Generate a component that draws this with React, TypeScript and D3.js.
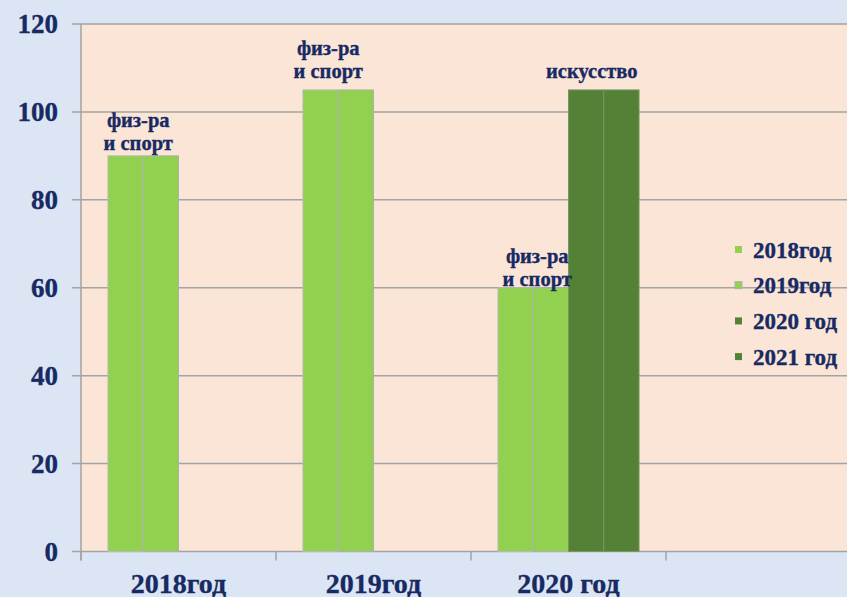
import React from "react";
import * as d3 from "d3";

const categories = ["2018год", "2019год", "2020 год", ""];
const seriesNames = ["2018год", "2019год", "2020 год", "2021 год"];
const values2018 = [90, 105, 60, 0];
const values2019 = [90, 105, 60, 0];
const values2020 = [0, 0, 105, 0];
const values2021 = [0, 0, 105, 0];
const seriesValues = [values2018, values2019, values2020, values2021];
const yTicks = [0, 20, 40, 60, 80, 100, 120];

const labelLines = [["физ-ра", "и спорт"], ["физ-ра", "и спорт"], ["физ-ра", "и спорт"], ["искусство"]];
const labelCategory = ["2018год", "2019год", "2020 год", "2020 год"];
const labelSeries = [0, 0, 0, 2];

const W = 847, H = 597;
const margin = { left: 81, top: 24, right: 861, bottom: 551.5 };
const colors = ["#92d050", "#92d050", "#538135", "#538135"];
const strokes = ["#b4bfa8", "#a8b3a8", "#7a9466", "#7a9466"];
const textColor = "#172a63";
const font = "'Liberation Serif', 'Times New Roman', serif";

export default function App() {
  const x0 = d3.scaleBand<string>().domain(categories).range([margin.left, margin.right]).paddingInner(0).paddingOuter(0);
  const x1 = d3.scaleBand<string>().domain(seriesNames).range([0, x0.bandwidth()]).paddingOuter(0.765);
  const y = d3.scaleLinear().domain([0, 120]).range([margin.bottom, margin.top]);

  const labelDx = [-5, -10, 4, -12];
  const labelGap = [6, 12, 2, 12];

  const textStyle = { stroke: textColor, strokeWidth: 0.35 };

  return (
    <svg width={W} height={H} style={{ position: "absolute", left: 0, top: 0, display: "block" }}>
      <rect x={0} y={0} width={W} height={H} fill="#dbe5f3" />
      <rect x={margin.left} y={y(120)} width={margin.right - margin.left} height={y(0) - y(120)} fill="#fbe5d7" />
      {yTicks.map((t) => (
        <g key={t}>
          <line x1={72} x2={margin.right} y1={y(t)} y2={y(t)} stroke="#a3a3a3" strokeWidth={1.5} />
          <text x={58} y={y(t)} dy="0.35em" textAnchor="end" fontFamily={font} fontWeight="bold" fontSize={27} fill={textColor} style={textStyle}>{t}</text>
        </g>
      ))}
      {categories.map((c) => (
        <line key={"t" + c} x1={x0(c)!} x2={x0(c)!} y1={y(0)} y2={y(0) + 9} stroke="#a3a3a3" strokeWidth={1.5} />
      ))}
      <line x1={margin.left} x2={margin.left} y1={y(120)} y2={y(0) + 9} stroke="#a3a3a3" strokeWidth={1.5} />
      {categories.map((c, ci) =>
        seriesNames.map((s, si) => {
          const v = seriesValues[si][ci];
          if (!v) return null;
          return (
            <rect key={c + s} x={x0(c)! + x1(s)!} y={y(v)} width={x1.bandwidth()} height={y(0) - y(v)}
              fill={colors[si]} stroke={strokes[si]} strokeWidth={1} />
          );
        })
      )}
      {categories.filter((c) => c).map((c) => (
        <text key={"xl" + c} x={x0(c)! + x0.bandwidth() / 2} y={593} textAnchor="middle" fontFamily={font} fontWeight="bold" fontSize={28} fill={textColor} style={textStyle}>{c}</text>
      ))}
      {labelLines.map((lines, i) => {
        const c = labelCategory[i];
        const s = labelSeries[i];
        const ci = categories.indexOf(c);
        const v = seriesValues[s][ci];
        const cx = x0(c)! + x1(seriesNames[s])! + x1.bandwidth() + labelDx[i];
        const base = y(v) - labelGap[i];
        return (
          <text key={"lab" + i} textAnchor="middle" fontFamily={font} fontWeight="bold" fontSize={20.5} fill={textColor} style={textStyle}>
            {lines.map((ln, li) => (
              <tspan key={li} x={cx} y={base - (lines.length - 1 - li) * 23}>{ln}</tspan>
            ))}
          </text>
        );
      })}
      {seriesNames.map((s, i) => (
        <g key={"lg" + s} transform={`translate(735, ${249.5 + i * 35.7})`}>
          <rect x={0} y={-3.5} width={7} height={7} fill={colors[i]} stroke={i === 1 ? "#a8b3a8" : "none"} strokeWidth={1} />
          <text x={18} y={0} dy="0.35em" fontFamily={font} fontWeight="bold" fontSize={23} fill={textColor} style={textStyle}>{s}</text>
        </g>
      ))}
    </svg>
  );
}
